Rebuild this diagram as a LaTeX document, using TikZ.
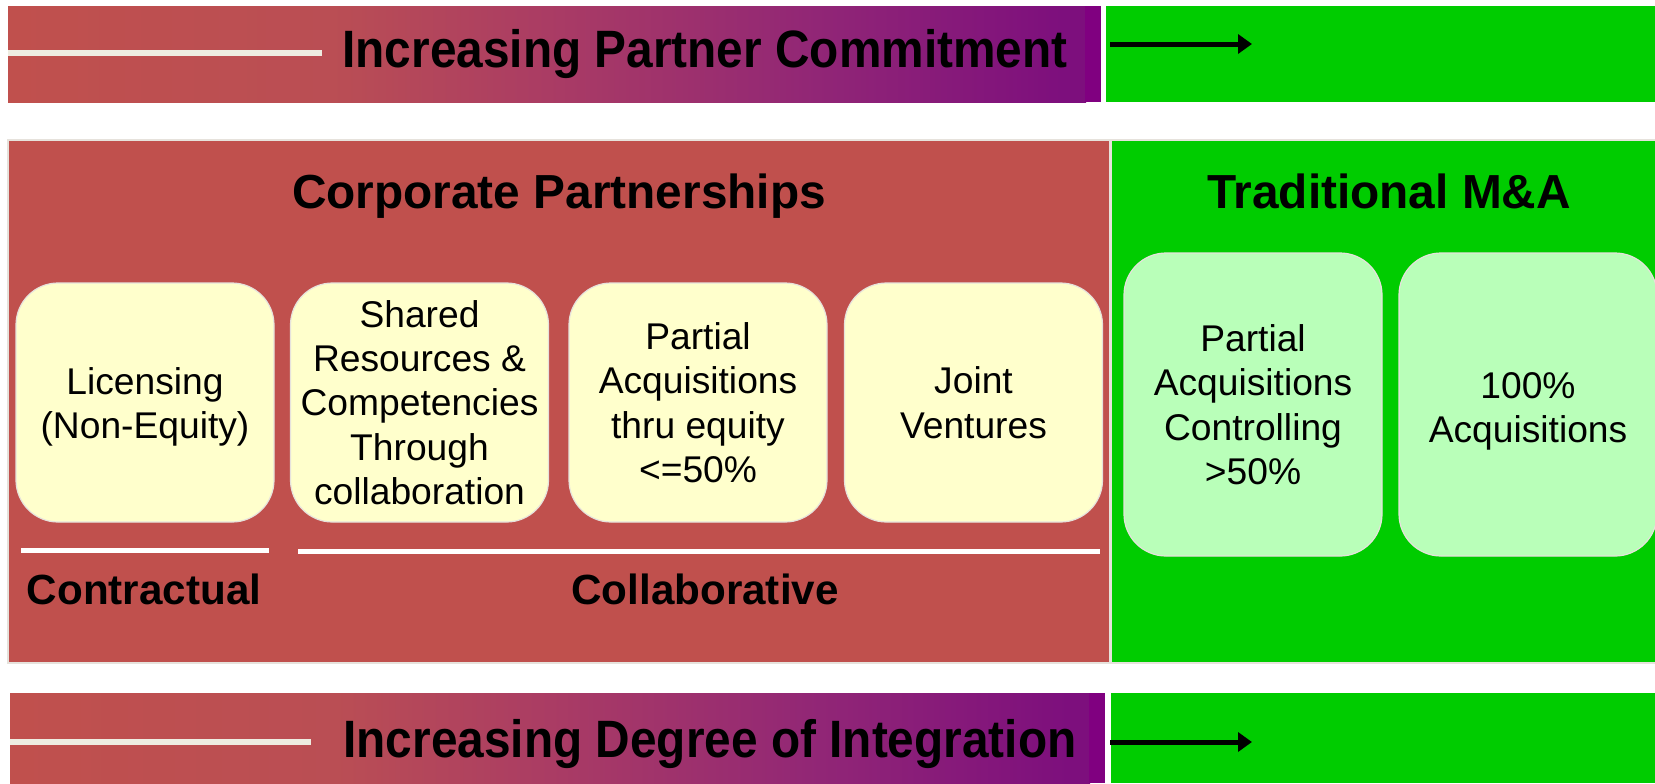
\documentclass[tikz,border=0pt]{standalone}
\usepackage{fontspec}
\usepackage{graphicx}
\setmainfont{Liberation Sans}
\usetikzlibrary{arrows.meta}
\definecolor{pred}{HTML}{C0504D}
\definecolor{ppurple}{HTML}{800080}
\definecolor{pgreen}{HTML}{00CC00}
\definecolor{pyellow}{HTML}{FFFFCC}
\definecolor{plgreen}{HTML}{B9FFB9}
\definecolor{pline}{HTML}{EEECE1}
\definecolor{pborder}{HTML}{E6E2DC}
\pgfdeclarehorizontalshading{barshade}{100bp}{%
  rgb(0bp)=(0.753,0.314,0.302);
  rgb(25bp)=(0.753,0.314,0.302);
  rgb(40bp)=(0.729,0.306,0.329);
  rgb(50bp)=(0.667,0.235,0.392);
  rgb(62.5bp)=(0.569,0.149,0.463);
  rgb(74bp)=(0.490,0.059,0.490);
  rgb(75bp)=(0.490,0.059,0.490);
  rgb(100bp)=(0.490,0.059,0.490)}
\begin{document}
\begin{tikzpicture}[x=0.5pt,y=-0.5pt,
  bartext/.style={font=\fontsize{23.9}{28}\selectfont\bfseries, inner sep=0pt, anchor=base},
  headtext/.style={font=\fontsize{23.9}{28}\selectfont\bfseries, inner sep=0pt, anchor=base},
  subtext/.style={font=\fontsize{21.1}{25}\selectfont\bfseries, inner sep=0pt, anchor=base},
  card/.style={draw=pborder, line width=0.6pt, rounded corners=21pt, align=center,
    minimum width=129pt, inner sep=2pt, font=\fontsize{18.6}{22.2}\selectfont},
  ycard/.style={card, fill=pyellow, minimum height=119.5pt},
  gcard/.style={card, fill=plgreen, minimum height=151.5pt},
  barfill/.style={shading=barshade},
  barline/.style={draw=pline, line width=2.8pt},
  divline/.style={draw=white, line width=2.5pt},
  arr/.style={draw=black, line width=2.5pt, -{Triangle[length=7pt,width=9.5pt]}}]
\useasboundingbox (0,0) rectangle (1655,783);
\fill[white] (0,0) rectangle (1655,783);

% top bar
\shade[barfill] (8,6) rectangle (1086,102);
\fill[ppurple] (1085,6) rectangle (1101,102);
\fill[pgreen] (1106,6) rectangle (1655,102);
\coordinate (tl1) at (8,53);
\coordinate (tl2) at (322,53);
\draw[barline] (tl1) -- (tl2);
\node[bartext] (toptitle) at (705,67) {\scalebox{1}[1.1]{Increasing Partner Commitment}};
\coordinate (ta1) at (1110,44);
\coordinate (ta2) at (1252,44);
\draw[arr] (ta1) -- (ta2);

% main panel
\fill[pred, draw=pborder, line width=0.6pt] (8,140) rectangle (1110,663);
\fill[pgreen, draw=pborder, line width=0.6pt] (1111.5,140) rectangle (1656,663);

\node[headtext] (corp) at (559,208) {Corporate Partnerships};
\node[headtext] (trad) at (1389,208) {Traditional M\&A};

\node[ycard] (lic) at (145,402.5) {\raisebox{-2.6pt}[\height][\depth]{\begin{tabular}{@{}c@{}}Licensing\\(Non-Equity)\end{tabular}}};
\node[ycard] (shared) at (419.5,402.5) {Shared\\Resources \&\\Competencies\\Through\\collaboration};
\node[ycard] (partial) at (698,402.5) {Partial\\Acquisitions\\thru equity\\<=50\%};
\node[ycard] (joint) at (973.5,402.5) {Joint\\Ventures};

\node[gcard] (pctrl) at (1253,404.5) {Partial\\Acquisitions\\Controlling\\>50\%};
\node[gcard] (full) at (1528,404.5) {\raisebox{-3.7pt}[\height][\depth]{\begin{tabular}{@{}c@{}}100\%\\Acquisitions\end{tabular}}};

\coordinate (cl1) at (21,550);
\coordinate (cl2) at (269,550);
\draw[divline] (cl1) -- (cl2);
\coordinate (cb1) at (298,551);
\coordinate (cb2) at (1100,551);
\draw[divline] (cb1) -- (cb2);
\node[subtext] (contr) at (144,604) {Contractual};
\node[subtext] (collab) at (705,604) {Collaborative};

% bottom bar
\shade[barfill] (10,693) rectangle (1090,783);
\fill[ppurple] (1089,693) rectangle (1105,783);
\fill[pgreen] (1111,693) rectangle (1655,783);
\coordinate (bl1) at (10,742);
\coordinate (bl2) at (311,742);
\draw[barline] (bl1) -- (bl2);
\node[bartext] (bottitle) at (710,757) {\scalebox{1}[1.1]{Increasing Degree of Integration}};
\coordinate (ba1) at (1110,742);
\coordinate (ba2) at (1252,742);
\draw[arr] (ba1) -- (ba2);
\end{tikzpicture}
\end{document}
